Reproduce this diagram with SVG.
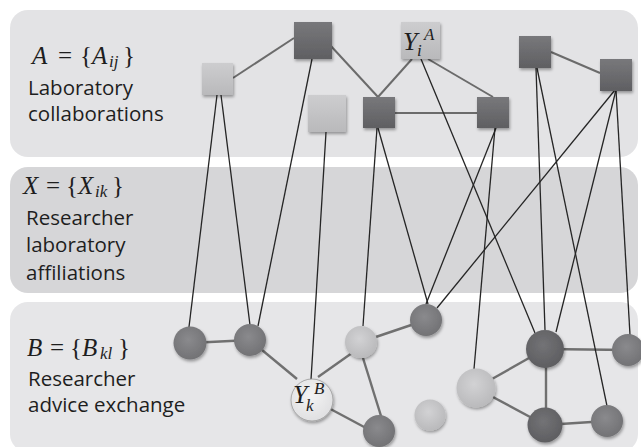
<svg xmlns="http://www.w3.org/2000/svg" width="641" height="447" viewBox="0 0 641 447">
<defs>
<linearGradient id="gDark" x1="0" y1="0" x2="0" y2="1"><stop offset="0" stop-color="#78787b"/><stop offset="1" stop-color="#5f5f62"/></linearGradient>
<linearGradient id="gLight" x1="0" y1="0" x2="0" y2="1"><stop offset="0" stop-color="#cdcdcf"/><stop offset="1" stop-color="#b9b9bb"/></linearGradient>
<radialGradient id="cDark" cx="0.45" cy="0.4" r="0.65"><stop offset="0" stop-color="#737376"/><stop offset="1" stop-color="#5c5c5f"/></radialGradient>
<radialGradient id="cMid" cx="0.45" cy="0.4" r="0.65"><stop offset="0" stop-color="#8a8a8d"/><stop offset="1" stop-color="#707073"/></radialGradient>
<radialGradient id="cLight" cx="0.45" cy="0.4" r="0.65"><stop offset="0" stop-color="#d2d2d4"/><stop offset="1" stop-color="#b8b8ba"/></radialGradient>
<radialGradient id="cWhite" cx="0.45" cy="0.4" r="0.65"><stop offset="0" stop-color="#f4f4f4"/><stop offset="1" stop-color="#dedee0"/></radialGradient>
<filter id="sh" x="-30%" y="-30%" width="160%" height="160%"><feDropShadow dx="1" dy="2" stdDeviation="1.4" flood-color="#000" flood-opacity="0.35"/></filter>
</defs>
<style>
.band1{fill:#e3e3e5}
.band2{fill:#d6d6d8}
.band3{fill:#e6e6e8}
.lbl{font-family:"Open Sans","Noto Sans",sans-serif;font-size:20.5px;fill:#1e1e1e}
.math{font-family:"Liberation Serif","DejaVu Serif",serif;font-size:25px;fill:#1e1e1e}
.it{font-style:italic}
.sub{font-size:17px;font-style:italic}
.cross{stroke:#252525;stroke-width:1.3;fill:none}
.intra{stroke:#6b6b6b;stroke-width:2;fill:none}
.intraB{stroke:#707070;stroke-width:2.4;fill:none}
.sqD{fill:url(#gDark);filter:url(#sh)}
.sqL{fill:url(#gLight);filter:url(#sh)}
.ciD{fill:url(#cDark);filter:url(#sh)}
.ciM{fill:url(#cMid);filter:url(#sh)}
.ciL{fill:url(#cLight);filter:url(#sh)}
.ciW{fill:url(#cWhite);stroke:#9a9a9a;stroke-width:0.8;filter:url(#sh)}
</style>
<rect width="641" height="447" fill="#ffffff"/>
<g id="bands">
<rect class="band1" x="10" y="10" width="628" height="147" rx="18"/>
<rect class="band2" x="10" y="167" width="628" height="126" rx="18"/>
<rect class="band3" x="10" y="302" width="628" height="150" rx="18"/>
</g>
<g id="labels">
<text class="math" y="64"><tspan class="it" x="32">A</tspan><tspan x="58">=</tspan><tspan x="80">{</tspan><tspan class="it" x="92">A</tspan><tspan class="sub" x="109" dy="3">ij</tspan><tspan x="123" dy="-3">}</tspan></text>
<text class="lbl" x="28" y="95">Laboratory</text>
<text class="lbl" x="28" y="121">collaborations</text>
<text class="math" y="194"><tspan class="it" x="23">X</tspan><tspan x="46">=</tspan><tspan x="66">{</tspan><tspan class="it" x="78">X</tspan><tspan class="sub" x="95" dy="3">ik</tspan><tspan x="112" dy="-3">}</tspan></text>
<text class="lbl" x="26" y="225">Researcher</text>
<text class="lbl" x="26" y="252">laboratory</text>
<text class="lbl" x="26" y="280">affiliations</text>
<text class="math" y="356"><tspan class="it" x="27">B</tspan><tspan x="50">=</tspan><tspan x="70">{</tspan><tspan class="it" x="82">B</tspan><tspan class="sub" x="100" dy="3">kl</tspan><tspan x="118" dy="-3">}</tspan></text>
<text class="lbl" x="28" y="386">Researcher</text>
<text class="lbl" x="28" y="412">advice exchange</text>
</g>
<g id="connectors">
<line class="intra" x1="233" y1="78" x2="294" y2="38"/>
<line class="intra" x1="330" y1="45" x2="378" y2="97"/>
<line class="intra" x1="412" y1="59" x2="378" y2="97"/>
<line class="intra" x1="428" y1="59" x2="493" y2="97"/>
<line class="intra" x1="395" y1="113" x2="477" y2="113"/>
<line class="intra" x1="551" y1="52" x2="600" y2="73"/>
<line class="intraB" x1="190" y1="343" x2="250" y2="340"/>
<line class="intraB" x1="262" y1="350" x2="297" y2="379"/>
<line class="intraB" x1="318" y1="377" x2="352" y2="353"/>
<line class="intraB" x1="323" y1="405" x2="366" y2="428"/>
<line class="intraB" x1="361" y1="342" x2="426" y2="320"/>
<line class="intraB" x1="363" y1="358" x2="381" y2="416"/>
<line class="intraB" x1="476" y1="388" x2="545" y2="349"/>
<line class="intraB" x1="476" y1="388" x2="545" y2="425"/>
<line class="intraB" x1="545" y1="349" x2="628" y2="350"/>
<line class="intraB" x1="546" y1="349" x2="546" y2="425"/>
<line class="intraB" x1="545" y1="425" x2="607" y2="421"/>
<line class="cross" x1="217" y1="95" x2="189" y2="327"/>
<line class="cross" x1="221" y1="95" x2="250" y2="325"/>
<line class="cross" x1="312" y1="59" x2="258" y2="326"/>
<line class="cross" x1="326" y1="132" x2="311" y2="380"/>
<line class="cross" x1="377" y1="128" x2="363" y2="326"/>
<line class="cross" x1="378" y1="128" x2="428" y2="304"/>
<line class="cross" x1="496" y1="128" x2="426" y2="304"/>
<line class="cross" x1="495" y1="128" x2="474" y2="369"/>
<line class="cross" x1="421" y1="59" x2="535" y2="333"/>
<line class="cross" x1="536" y1="68" x2="545" y2="330"/>
<line class="cross" x1="537" y1="68" x2="607" y2="406"/>
<line class="cross" x1="615" y1="90" x2="437" y2="308"/>
<line class="cross" x1="616" y1="90" x2="556" y2="332"/>
<line class="cross" x1="616" y1="90" x2="630" y2="335"/>
</g>
<g id="sq1"><rect class="sqL" x="202" y="63" width="31" height="32"/></g>
<g id="sq2"><rect class="sqD" x="294" y="22" width="38" height="37"/></g>
<g id="sq3"><rect class="sqL" x="308" y="95" width="38" height="37"/></g>
<g id="sqYA"><rect class="sqL" x="401" y="22" width="39" height="37"/>
<text class="math" y="50" style="font-size:26px"><tspan class="it" x="403">Y</tspan><tspan class="sub" x="417" dy="6" style="font-size:17px">i</tspan><tspan class="sub" x="424" dy="-16" style="font-size:17px">A</tspan></text></g>
<g id="sq5"><rect class="sqD" x="363" y="97" width="32" height="31"/></g>
<g id="sq6"><rect class="sqD" x="477" y="97" width="32" height="31"/></g>
<g id="sq7"><rect class="sqD" x="519" y="36" width="32" height="32"/></g>
<g id="sq8"><rect class="sqD" x="600" y="59" width="32" height="32"/></g>
<g id="c1"><circle class="ciM" cx="190" cy="343" r="16.5"/></g>
<g id="c2"><circle class="ciM" cx="250" cy="340" r="16"/></g>
<g id="cYB"><circle class="ciW" cx="312" cy="400" r="21"/>
<text class="math" y="403" style="font-size:26px"><tspan class="it" x="293">Y</tspan><tspan class="sub" x="306" dy="8" style="font-size:17px">k</tspan><tspan class="sub" x="314" dy="-17" style="font-size:17px">B</tspan></text></g>
<g id="c4"><circle class="ciM" cx="426" cy="320" r="16"/></g>
<g id="c5"><circle class="ciL" cx="361" cy="342" r="16"/></g>
<g id="c6"><circle class="ciM" cx="379" cy="431" r="16"/></g>
<g id="c7"><circle class="ciL" cx="430" cy="415" r="15.5"/></g>
<g id="c8"><circle class="ciL" cx="476" cy="388" r="19.5"/></g>
<g id="c9"><circle class="ciD" cx="545" cy="349" r="19"/></g>
<g id="c10"><circle class="ciM" cx="628" cy="350" r="16"/></g>
<g id="c11"><circle class="ciD" cx="545" cy="425" r="17.5"/></g>
<g id="c12"><circle class="ciM" cx="607" cy="421" r="16"/></g>
</svg>
